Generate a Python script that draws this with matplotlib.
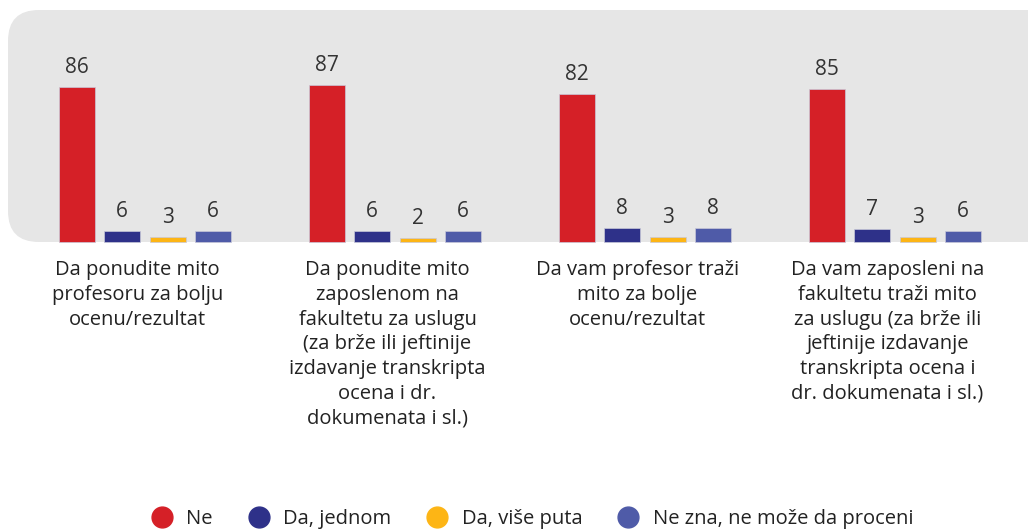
import matplotlib.pyplot as plt
import numpy as np
from matplotlib.patches import FancyBboxPatch
from matplotlib.lines import Line2D

plt.rcParams['font.family'] = ['Open Sans', 'DejaVu Sans']

categories = [
    "Da ponudite mito\nprofesoru za bolju\nocenu/rezultat",
    "Da ponudite mito\nzaposlenom na\nfakultetu za uslugu\n(za brže ili jeftinije\nizdavanje transkripta\nocena i dr.\ndokumenata i sl.)",
    "Da vam profesor traži\nmito za bolje\nocenu/rezultat",
    "Da vam zaposleni na\nfakultetu traži mito\nza uslugu (za brže ili\njeftinije izdavanje\ntranskripta ocena i\ndr. dokumenata i sl.)",
]
series_names = ["Ne", "Da, jednom", "Da, više puta", "Ne zna, ne može da proceni"]
ne = [86, 87, 82, 85]
da_jednom = [6, 6, 8, 7]
da_vise = [3, 2, 3, 3]
ne_zna = [6, 6, 8, 6]
colors = ["#d52027", "#2e3189", "#fdb515", "#4f5ba8"]

W, H = 1028, 532
fig = plt.figure(figsize=(W / 100, H / 100), dpi=100)

# gray rounded panel behind the bars
panel = FancyBboxPatch((8 / W, (H - 242) / H), 1.1, (242 - 10) / H,
                       boxstyle="round,pad=0,rounding_size=0.03",
                       transform=fig.transFigure, facecolor="#e6e6e6",
                       edgecolor="none", mutation_aspect=W / H, zorder=-1)
fig.patches.append(panel)

ax = fig.add_axes([0, (H - 242) / H, 1, 180 / H])
ax.set_facecolor("none")
ax.set_zorder(1)
x = np.arange(len(categories))
step = 45.5 / 250
width = 36 / 250
for i, (vals, c) in enumerate(zip([ne, da_jednom, da_vise, ne_zna], colors)):
    pos = x + (i - 1.5) * step
    ax.bar(pos, vals, width=width, color=c, edgecolor="#c8c8d8", linewidth=0.5,
           clip_on=False)
    for p, v in zip(pos, vals):
        ax.text(p, v + 5, str(v), ha="center", va="bottom", fontsize=15,
                color="#333333")

ax.set_xlim(-145 / 250, (W - 145) / 250)
ax.set_ylim(0, 100)
ax.axis("off")

for xi, lab in zip(x, categories):
    ax.text(xi - 0.03, -10, lab, ha="center", va="top", fontsize=14.5,
            color="#222222", linespacing=1.32)

handles = [Line2D([], [], marker="o", linestyle="none", markersize=15,
                  markerfacecolor=c, markeredgecolor=c) for c in colors]
fig.legend(handles, series_names, loc="center", bbox_to_anchor=(0.513, (H - 519) / H),
           ncol=4, frameon=False, fontsize=14.5, handletextpad=0.2,
           columnspacing=1.3, labelcolor="#222222")

fig.savefig("out.png", dpi=100)
